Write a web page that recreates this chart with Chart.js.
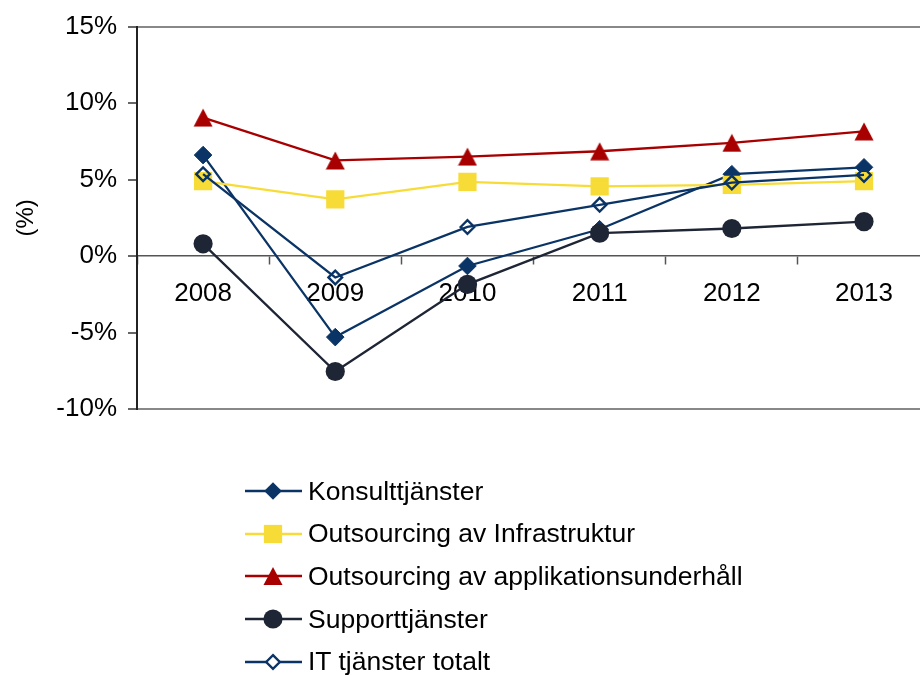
<!DOCTYPE html>
<html>
<head>
<meta charset="utf-8">
<script src="https://cdn.jsdelivr.net/npm/chart.js@4.4.1/dist/chart.umd.min.js"></script>
<style>
  html, body { margin: 0; padding: 0; background: #fff; overflow: hidden; }
  .wrap { position: absolute; left: 0; top: 0; width: 943px; height: 440px; }
  #chartLegend { position: absolute; left: 244px; top: 470px; font-family: "Liberation Sans", Arial, sans-serif; font-size: 26.5px; color: #000; }
  .legend-item { display: flex; align-items: center; height: 42.6px; }
  .legend-item canvas { margin-right: 4px; }
</style>
</head>
<body>
<div class="wrap"><canvas id="myLineChart" width="943" height="440"></canvas></div>
<div id="chartLegend"></div>
<script>
const years = ["2008", "2009", "2010", "2011", "2012", "2013"];
const konsult = [6.6, -5.3, -0.65, 1.75, 5.35, 5.8];
const infra = [4.9, 3.7, 4.85, 4.55, 4.65, 4.9];
const applik = [9.05, 6.25, 6.5, 6.85, 7.4, 8.15];
const support = [0.8, -7.55, -1.85, 1.5, 1.8, 2.25];
const itTotal = [5.35, -1.4, 1.9, 3.35, 4.8, 5.3];
const yTicks = [-10, -5, 0, 5, 10, 15];

const FONT = "'Liberation Sans', Arial, sans-serif";
const navy = "#0B3466";
const red = "#A80000";

// triangle marker centred on its bounding box (like the original)
const triImg = document.createElement("canvas");
triImg.width = 20;
triImg.height = 19;
(() => {
  const c = triImg.getContext("2d");
  c.fillStyle = red;
  c.beginPath();
  c.moveTo(10, 0.5);
  c.lineTo(19.5, 18.5);
  c.lineTo(0.5, 18.5);
  c.closePath();
  c.fill();
})();

const data = {
  labels: years,
  datasets: [
    {
      label: "Konsulttjänster",
      data: konsult,
      borderColor: navy,
      backgroundColor: navy,
      pointStyle: "rectRot",
      pointRadius: 8.8,
      pointBorderWidth: 1,
      order: 5,
    },
    {
      label: "Outsourcing av Infrastruktur",
      data: infra,
      borderColor: "#F7DC38",
      backgroundColor: "#F7DC38",
      pointStyle: "rect",
      pointRadius: 12.9,
      pointBorderWidth: 0,
      order: 4,
    },
    {
      label: "Outsourcing av applikationsunderhåll",
      data: applik,
      borderColor: red,
      backgroundColor: red,
      pointStyle: triImg,
      legendStyle: "triangle",
      pointRadius: 10.8,
      pointBorderWidth: 0,
      order: 3,
    },
    {
      label: "Supporttjänster",
      data: support,
      borderColor: "#1E2535",
      backgroundColor: "#1E2535",
      pointStyle: "circle",
      pointRadius: 9.6,
      pointBorderWidth: 0,
      order: 2,
    },
    {
      label: "IT tjänster totalt",
      data: itTotal,
      borderColor: navy,
      backgroundColor: "rgba(0,0,0,0)",
      pointStyle: "rectRot",
      pointRadius: 6.8,
      pointBorderWidth: 2.4,
      order: 1,
    },
  ],
};

// small legend icons: line with marker in the middle
function drawIcon(cv, ds) {
  const c = cv.getContext("2d");
  const cx = 29, cy = 15;
  const style = ds.legendStyle || ds.pointStyle;
  c.strokeStyle = ds.borderColor;
  c.lineWidth = 2.3;
  c.beginPath();
  c.moveTo(1, cy);
  c.lineTo(58, cy);
  c.stroke();
  c.fillStyle = ds.pointBorderWidth > 1 ? "#ffffff" : ds.backgroundColor;
  c.beginPath();
  const r = ds.pointRadius;
  if (style === "rectRot") {
    c.moveTo(cx, cy - r); c.lineTo(cx + r, cy); c.lineTo(cx, cy + r); c.lineTo(cx - r, cy);
    c.closePath();
  } else if (style === "rect") {
    const s = r * Math.SQRT1_2;
    c.rect(cx - s, cy - s, 2 * s, 2 * s);
  } else if (style === "triangle") {
    c.moveTo(cx, cy - 9);
    c.lineTo(cx + 9.5, cy + 9);
    c.lineTo(cx - 9.5, cy + 9);
    c.closePath();
  } else {
    c.arc(cx, cy, r, 0, Math.PI * 2);
  }
  c.fill();
  if (ds.pointBorderWidth > 1) {
    c.lineWidth = ds.pointBorderWidth;
    c.stroke();
  }
}

const config = {
  type: "line",
  data: data,
  options: {
    responsive: false,
    animation: false,
    datasets: { line: { borderWidth: 2.3, tension: 0 } },
    layout: { padding: { left: 0, right: 0, top: 25, bottom: 31 } },
    plugins: {
      legend: { display: false },
      tooltip: { enabled: false },
    },
    scales: {
      x: {
        type: "category",
        position: { y: 0 },
        offset: true,
        afterFit: (scale) => { scale.height = 0; },
        grid: {
          offset: true,
          drawOnChartArea: false,
          drawTicks: true,
          tickLength: 8,
          tickColor: "#555",
          tickWidth: 1.5,
        },
        border: { display: true, color: "#555", width: 1.5 },
        ticks: {
          color: "#000",
          font: { family: FONT, size: 26 },
          padding: 14,
          maxRotation: 0,
        },
      },
      y: {
        min: -10,
        max: 15,
        afterFit: (scale) => { scale.width = 137; },
        afterBuildTicks: (scale) => { scale.ticks = yTicks.map((v) => ({ value: v })); },
        grid: {
          drawTicks: true,
          tickLength: 9,
          tickColor: "#000",
          tickWidth: 1.2,
          lineWidth: 2,
          color: (ctx) => (ctx.tick && (ctx.tick.value === 15 || ctx.tick.value === -10) ? "#888888" : "rgba(0,0,0,0)"),
        },
        border: { display: true, color: "#222", width: 2 },
        ticks: {
          color: "#000",
          font: { family: FONT, size: 26 },
          padding: 11,
          callback: (v) => v + "%",
        },
        title: {
          display: true,
          text: "(%)",
          color: "#000",
          font: { family: FONT, size: 24 },
          padding: { top: 12, bottom: 0 },
        },
      },
    },
  },
  plugins: [
    {
      id: "custom-legend",
      afterUpdate: (chart) => {
        const legendContainer = document.getElementById("chartLegend");
        legendContainer.innerHTML = "";
        chart.data.datasets.forEach((ds) => {
          const legendItem = document.createElement("div");
          legendItem.classList.add("legend-item");
          const icon = document.createElement("canvas");
          icon.width = 60;
          icon.height = 30;
          drawIcon(icon, ds);
          const labelText = document.createElement("span");
          labelText.textContent = ds.label;
          legendItem.appendChild(icon);
          legendItem.appendChild(labelText);
          legendContainer.appendChild(legendItem);
        });
      },
    },
  ],
};

const ctx = document.getElementById("myLineChart").getContext("2d");
new Chart(ctx, config);
</script>
</body>
</html>
